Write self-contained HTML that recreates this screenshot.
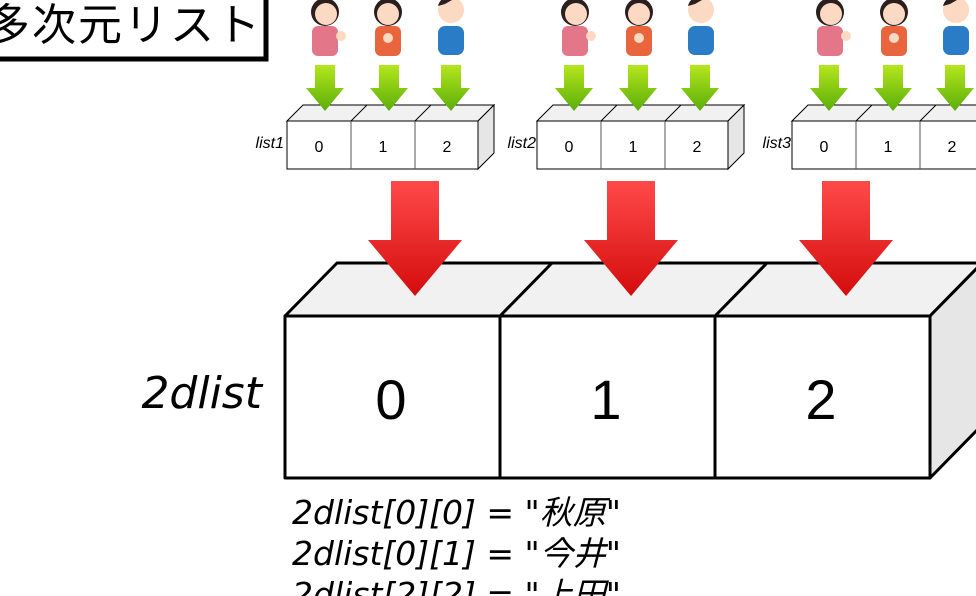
<!DOCTYPE html>
<html><head><meta charset="utf-8"><style>
body{margin:0;background:#fff;width:976px;height:596px;overflow:hidden;position:relative}
svg{position:absolute;left:0;top:0}
.t{font-family:"Liberation Sans","Noto Sans CJK JP",sans-serif}
.d{font-family:"DejaVu Sans","Noto Sans CJK JP",sans-serif;font-style:oblique}
</style></head><body>
<svg width="976" height="596" viewBox="0 0 976 596">
<defs>
<linearGradient id="g" x1="0" y1="0" x2="0" y2="1"><stop offset="0" stop-color="#b5e61d"/><stop offset="1" stop-color="#5aae0a"/></linearGradient>
<linearGradient id="r" x1="0" y1="0" x2="0" y2="1"><stop offset="0" stop-color="#ff4a4a"/><stop offset="1" stop-color="#d40c0c"/></linearGradient>
<g id="ga"><polygon points="-10,0 10,0 10,23 19,23 0,46 -19,23 -10,23" fill="url(#g)"/></g>
<g id="ra"><polygon points="-24,0 24,0 24,59 47,59 0,115 -47,59 -24,59" fill="url(#r)"/></g>
<g id="p1"><rect x="-13" y="26" width="26" height="30" rx="6" fill="#e4768a"/><circle cx="0" cy="12" r="14" fill="#2a1e1e"/><circle cx="1" cy="14" r="11" fill="#fcd9c2"/><circle cx="16" cy="36" r="5" fill="#fcd9c2"/></g>
<g id="p2"><rect x="-13" y="26" width="26" height="30" rx="6" fill="#e8653e"/><circle cx="0" cy="12" r="14" fill="#2a1e1e"/><circle cx="0" cy="14" r="11" fill="#fcd9c2"/><circle cx="0" cy="38" r="5" fill="#fcd9c2"/></g>
<g id="p3"><rect x="-13" y="26" width="26" height="29" rx="7" fill="#2b7cc6"/><circle cx="0" cy="10" r="13" fill="#fcd9c2"/><path d="M-13,6 Q-10,-6 8,-4 L-6,4Z" fill="#2a1e1e"/></g>
<g id="sl">
<polygon points="0,16 16,0 207,0 191,16" fill="#f1f1f1" stroke="#000" stroke-width="1"/>
<polygon points="191,16 207,0 207,48 191,64" fill="#e6e6e6" stroke="#000" stroke-width="1"/>
<rect x="0" y="16" width="191" height="48" fill="#fff" stroke="#000"/>
<line x1="64" y1="16" x2="64" y2="64" stroke="#555"/><line x1="128" y1="16" x2="128" y2="64" stroke="#555"/>
<line x1="64" y1="16" x2="80" y2="0" stroke="#000"/><line x1="128" y1="16" x2="144" y2="0" stroke="#000"/>
<text class="t" x="32" y="47" font-size="16" text-anchor="middle">0</text>
<text class="t" x="96" y="47" font-size="16" text-anchor="middle">1</text>
<text class="t" x="160" y="47" font-size="16" text-anchor="middle">2</text>
</g>
</defs>
<rect x="-10" y="-10" width="276" height="69" fill="#fff" stroke="#000" stroke-width="5"/>
<text class="t" x="-14" y="40" font-size="44" letter-spacing="2">多次元リスト</text>

<g transform="translate(325,0)"><use href="#p1"/></g><g transform="translate(388,0)"><use href="#p2"/></g><g transform="translate(451,0)"><use href="#p3"/></g>
<g transform="translate(575,0)"><use href="#p1"/></g><g transform="translate(639,0)"><use href="#p2"/></g><g transform="translate(701,0)"><use href="#p3"/></g>
<g transform="translate(830,0)"><use href="#p1"/></g><g transform="translate(894,0)"><use href="#p2"/></g><g transform="translate(956,0)"><use href="#p3"/></g>

<g transform="translate(287,105)"><use href="#sl"/></g>
<g transform="translate(537,105)"><use href="#sl"/></g>
<g transform="translate(792,105)"><use href="#sl"/></g>
<text class="t" x="284" y="148" font-size="16" font-style="italic" text-anchor="end">list1</text>
<text class="t" x="536" y="148" font-size="16" font-style="italic" text-anchor="end">list2</text>
<text class="t" x="791" y="148" font-size="16" font-style="italic" text-anchor="end">list3</text>

<g transform="translate(325,65)"><use href="#ga"/></g><g transform="translate(389,65)"><use href="#ga"/></g><g transform="translate(451,65)"><use href="#ga"/></g>
<g transform="translate(574,65)"><use href="#ga"/></g><g transform="translate(638,65)"><use href="#ga"/></g><g transform="translate(700,65)"><use href="#ga"/></g>
<g transform="translate(829,65)"><use href="#ga"/></g><g transform="translate(893,65)"><use href="#ga"/></g><g transform="translate(955,65)"><use href="#ga"/></g>

<g stroke="#000" stroke-width="3" stroke-linejoin="round">
<polygon points="285,316 337,263 982,263 930,316" fill="#f1f1f1"/>
<polygon points="930,316 982,263 982,425 930,478" fill="#e6e6e6"/>
<rect x="285" y="316" width="645" height="162" fill="#fff"/>
<line x1="500" y1="316" x2="500" y2="478"/><line x1="715" y1="316" x2="715" y2="478"/>
<line x1="500" y1="316" x2="552" y2="263"/><line x1="715" y1="316" x2="767" y2="263"/>
</g>
<text class="t" x="391" y="419" font-size="56" text-anchor="middle">0</text>
<text class="t" x="606" y="419" font-size="56" text-anchor="middle">1</text>
<text class="t" x="821" y="419" font-size="56" text-anchor="middle">2</text>
<text class="d" x="262" y="408" font-size="44" text-anchor="end">2dlist</text>

<g transform="translate(415,181)"><use href="#ra"/></g>
<g transform="translate(631,181)"><use href="#ra"/></g>
<g transform="translate(846,181)"><use href="#ra"/></g>

<text class="d" x="292" y="524" font-size="33">2dlist[0][0] = "秋原"</text>
<text class="d" x="292" y="565" font-size="33">2dlist[0][1] = "今井"</text>
<text class="d" x="292" y="606" font-size="33">2dlist[2][2] = "上田"</text>
</svg>
</body></html>
